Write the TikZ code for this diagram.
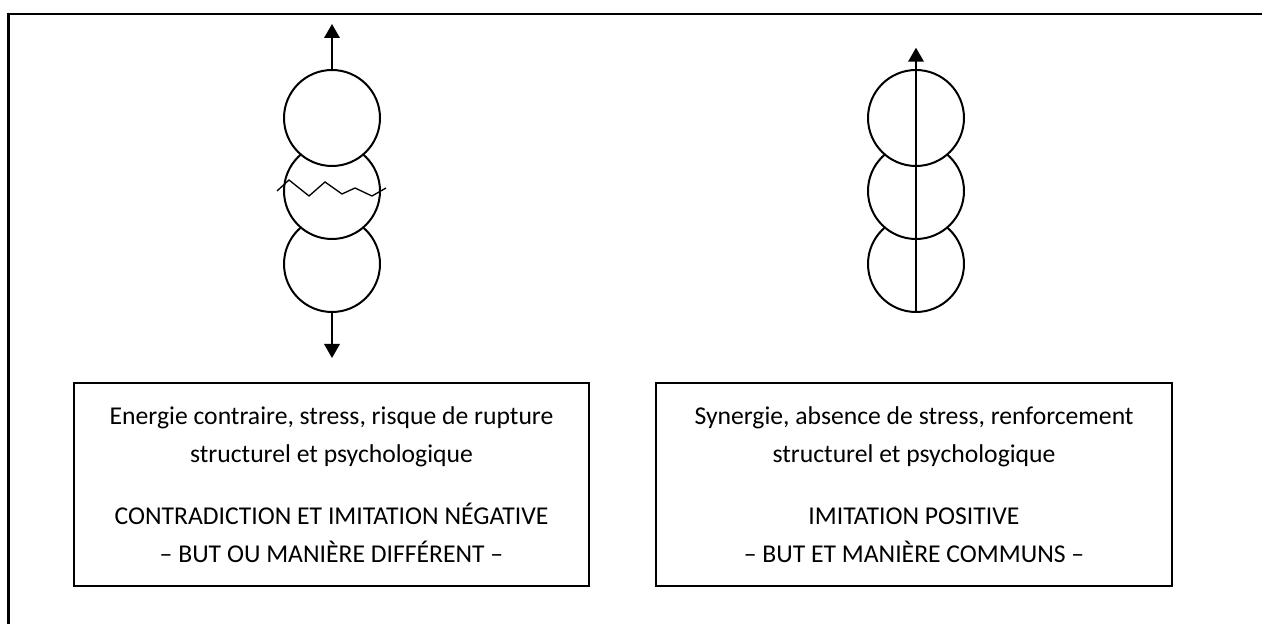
\documentclass[tikz,border=0pt]{standalone}
\usepackage{fontspec}
\setmainfont{Carlito}
\usetikzlibrary{arrows.meta,positioning}
\tikzset{
  ball/.style={draw, circle, fill=white, minimum size=1.92cm, inner sep=0pt, outer sep=0pt, line width=0.04cm},
  legend/.style={draw, line width=0.04cm, minimum width=10.32cm, minimum height=4.06cm, align=center, inner sep=0pt, font=\fontsize{14.6}{21.5}\selectfont},
  pull/.style={line width=0.04cm, -{Triangle[length=0.28cm,width=0.31cm]}}
}

\begin{document}
\begin{tikzpicture}[x=0.02cm, y=-0.02cm]
    \useasboundingbox (0,0) rectangle (1262,624);
    \draw[line width=0.055cm] (8.5,624) -- (8.5,14) -- (1262,14);
    % contradiction: stack pulled apart
    \node[ball] (l3) at (332,264) {};
    \node[ball] (l2) at (332,191) {};
    \node[ball] (l1) at (332,118) {};
    \coordinate (ltop) at (332,24);
    \coordinate (lbot) at (332,358);
    \draw[pull] (l1) -- (ltop);
    \draw[pull] (l3) -- (lbot);
    \draw[line width=0.75pt] (277,191) -- (289,180) -- (309,196) -- (325,182) -- (342,194) -- (355,188) -- (372,196) -- (386,188);
    % synergie: one axis through the stack
    \node[ball] (r3) at (916,264) {};
    \node[ball] (r2) at (916,191) {};
    \node[ball] (r1) at (916,118) {};
    \coordinate (rtop) at (916,47.7);
    \draw[pull] (r3.south) -- (rtop);
    % legends
    \node[legend] (lbox) at (331.5,484.5) {Energie contraire, stress, risque de rupture\\ structurel et psychologique\\[14pt] CONTRADICTION ET IMITATION NÉGATIVE\\ – BUT OU MANIÈRE DIFFÉRENT –};
    \node[legend] (rbox) at (914,484.5) {Synergie, absence de stress, renforcement\\ structurel et psychologique\\[14pt] IMITATION POSITIVE\\ – BUT ET MANIÈRE COMMUNS –};
\end{tikzpicture}
\end{document}
